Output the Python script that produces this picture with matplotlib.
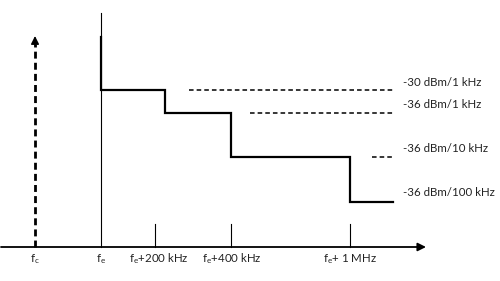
import numpy as np
import matplotlib.pyplot as plt

plt.rcParams['font.family'] = ['Lato', 'DejaVu Sans']

# 横轴位置（示意图单位，f_e 处为 0）
step_x = [0, 0, 64, 64, 130, 130, 249, 249, 292]
step_y = [210, 157, 157, 134, 134, 90, 90, 45, 45]
tick_x = [54, 130, 249]
fc_x = -66
fc_top = 211
fe_top = 234

# 限值虚线
limit_start = [88, 149, 271]
limit_end = [293, 293, 293]
limit_level = [157, 134, 90]
limit_text = ['-30 dBm/1 kHz', '-36 dBm/1 kHz', '-36 dBm/10 kHz', '-36 dBm/100 kHz']
text_level = [165, 143, 99, 55]

xlabels = ['f$\\mathregular{_c}$', 'f$\\mathregular{_e}$', 'f$\\mathregular{_e}$+200 kHz',
           'f$\\mathregular{_e}$+400 kHz', 'f$\\mathregular{_e}$+ 1 MHz']
xlabel_pos = [-66, 0, 58, 131, 249]

fig = plt.figure(figsize=(5, 2.81), dpi=100)
ax = fig.add_axes([0, 0, 1, 1])
ax.set_xlim(-101, 399)
ax.set_ylim(-34, 247)
ax.axis('off')

# 横轴 + 箭头
ax.annotate('', xy=(325, 0), xytext=(-100, 0),
            arrowprops=dict(arrowstyle='-|>', color='black', lw=1.3,
                            mutation_scale=12, shrinkA=0, shrinkB=0))
# f_c 虚线箭头
ax.plot([fc_x, fc_x], [0, fc_top - 8], color='black', lw=2, ls=(0, (2.5, 1.5)))
ax.annotate('', xy=(fc_x, fc_top), xytext=(fc_x, fc_top - 9),
            arrowprops=dict(arrowstyle='-|>', color='black', lw=1,
                            mutation_scale=12, shrinkA=0, shrinkB=0))
# f_e 细线
ax.plot([0, 0], [0, fe_top], color='black', lw=0.8)
# 刻度
for x in tick_x:
    ax.plot([x, x], [0, 23], color='black', lw=0.8)
# 阶梯
ax.plot(step_x, step_y, color='black', lw=1.6, solid_joinstyle='miter')
# 虚线
for x0, x1, y in zip(limit_start, limit_end, limit_level):
    ax.plot([x0, x1], [y, y], color='black', lw=1.1, ls=(0, (3, 2)))
for t, y in zip(limit_text, text_level):
    ax.text(302, y, t, fontsize=8.3, va='center', ha='left', color='#222222')
for t, x in zip(xlabels, xlabel_pos):
    ax.text(x, -12, t, fontsize=8.3, va='center', ha='center', color='#222222')

plt.savefig('out.png', dpi=100)
